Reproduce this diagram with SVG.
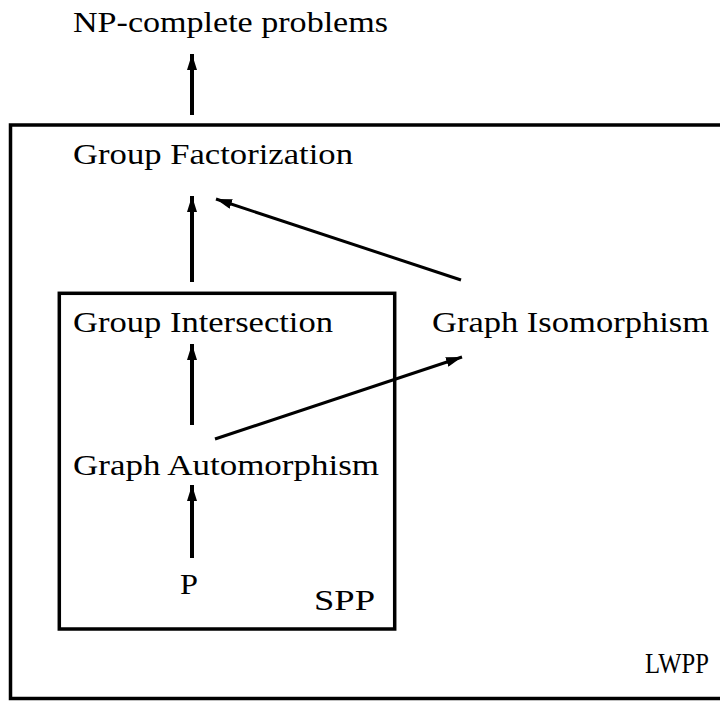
<svg xmlns="http://www.w3.org/2000/svg" width="720" height="703" viewBox="0 0 720 703">
<style>
text{font-family:"Liberation Serif","DejaVu Serif",serif;font-size:29px;fill:#000}
.box{fill:none;stroke:#000;stroke-width:3.5}
.v{stroke:#000;stroke-width:4;fill:none}
.d{stroke:#000;stroke-width:3;fill:none}
</style>
<defs>
<marker id="ah" viewBox="0 0 16 10" refX="16" refY="5" markerWidth="16" markerHeight="10" markerUnits="userSpaceOnUse" orient="auto">
<path d="M0,0 L16,5 L0,10 Z" fill="#000"/>
</marker>
</defs>
<g id="LWPP">
<rect class="box" x="10.5" y="125" width="720" height="573.5"/>
<text x="645" y="673" textLength="64" lengthAdjust="spacingAndGlyphs">LWPP</text>
</g>
<g id="SPP">
<rect class="box" x="59.3" y="293.3" width="335.4" height="335.7"/>
<text x="314" y="610" textLength="61" lengthAdjust="spacingAndGlyphs">SPP</text>
</g>
<g id="np"><text x="73" y="32" textLength="315" lengthAdjust="spacingAndGlyphs">NP-complete problems</text></g>
<g id="gf"><text x="73" y="164" textLength="280" lengthAdjust="spacingAndGlyphs">Group Factorization</text></g>
<g id="gint"><text x="73" y="332" textLength="260" lengthAdjust="spacingAndGlyphs">Group Intersection</text></g>
<g id="giso"><text x="432" y="332" textLength="277" lengthAdjust="spacingAndGlyphs">Graph Isomorphism</text></g>
<g id="gaut"><text x="73" y="475" textLength="306" lengthAdjust="spacingAndGlyphs">Graph Automorphism</text></g>
<g id="p"><text x="180" y="594" textLength="18" lengthAdjust="spacingAndGlyphs">P</text></g>
<g id="connectors">
<line class="v" x1="192" y1="115" x2="192" y2="54" marker-end="url(#ah)"/>
<line class="v" x1="192" y1="282" x2="192" y2="196" marker-end="url(#ah)"/>
<line class="d" x1="461" y1="280" x2="216" y2="199" marker-end="url(#ah)"/>
<line class="v" x1="192" y1="425" x2="192" y2="344" marker-end="url(#ah)"/>
<line class="d" x1="215" y1="439" x2="462" y2="357" marker-end="url(#ah)"/>
<line class="v" x1="192" y1="558" x2="192" y2="485" marker-end="url(#ah)"/>
</g>
</svg>
